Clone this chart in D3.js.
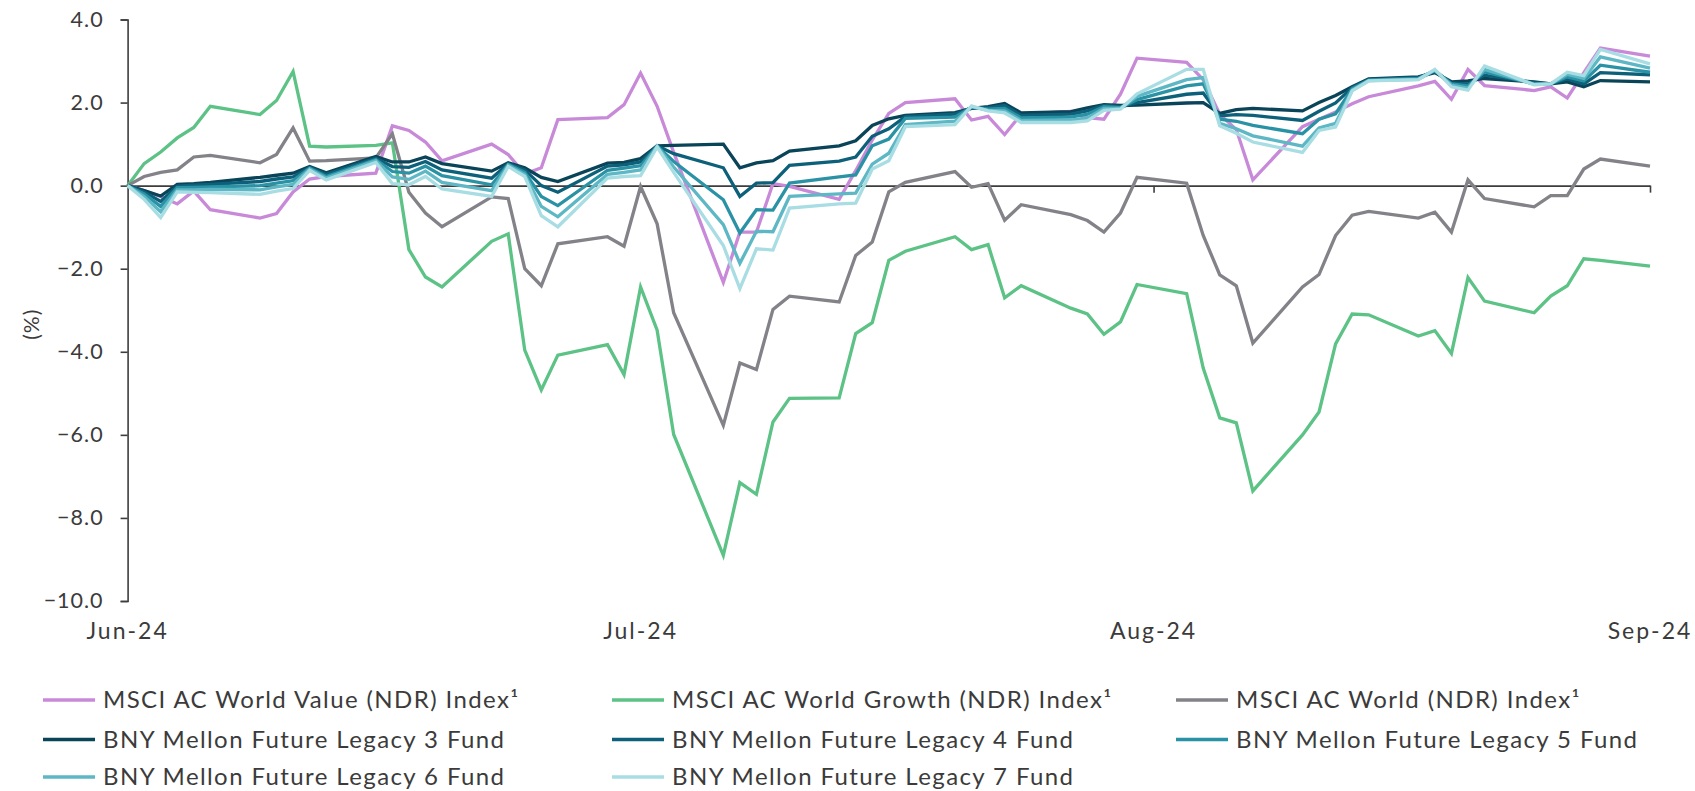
<!DOCTYPE html>
<html>
<head>
<meta charset="utf-8">
<script src="https://cdnjs.cloudflare.com/ajax/libs/d3/7.8.5/d3.min.js"></script>
<style>
    html, body { margin: 0; padding: 0; background: #ffffff; }
    svg { display: block; }
    text { font-family: Lato, "Open Sans", sans-serif; fill: #3b3b3b; }
</style>
</head>
<body>
<div id="contents"></div>
<script>
// trading days (first entry is the base point)
var dates = [
    '2024-06-02',
    '2024-06-03', '2024-06-04', '2024-06-05', '2024-06-06', '2024-06-07',
    '2024-06-10', '2024-06-11', '2024-06-12', '2024-06-13', '2024-06-14',
    '2024-06-17', '2024-06-18', '2024-06-19', '2024-06-20', '2024-06-21',
    '2024-06-24', '2024-06-25', '2024-06-26', '2024-06-27', '2024-06-28',
    '2024-07-01', '2024-07-02', '2024-07-03', '2024-07-04', '2024-07-05',
    '2024-07-08', '2024-07-09', '2024-07-10', '2024-07-11', '2024-07-12',
    '2024-07-15', '2024-07-16', '2024-07-17', '2024-07-18', '2024-07-19',
    '2024-07-22', '2024-07-23', '2024-07-24', '2024-07-25', '2024-07-26',
    '2024-07-29', '2024-07-30', '2024-07-31', '2024-08-01', '2024-08-02',
    '2024-08-05', '2024-08-06', '2024-08-07', '2024-08-08', '2024-08-09',
    '2024-08-12', '2024-08-13', '2024-08-14', '2024-08-15', '2024-08-16',
    '2024-08-19', '2024-08-20', '2024-08-21', '2024-08-22', '2024-08-23',
    '2024-08-26', '2024-08-27', '2024-08-28', '2024-08-29', '2024-08-30',
    '2024-09-02'
];

var msciValue = [
    0,
    -0.12, -0.26, -0.44, -0.13, -0.58,
    -0.78, -0.67, -0.15, 0.16, 0.22,
    0.30, 1.44, 1.33, 1.05, 0.60,
    1.00, 0.75, 0.28, 0.43, 1.59,
    1.64, 1.95, 2.71, 1.91, 0.80,
    -2.33, -1.12, -1.12, 0.05, -0.02,
    -0.33, 0.36, 1.10, 1.74, 2.00,
    2.09, 1.58, 1.67, 1.23, 1.72,
    1.79, 1.64, 1.60, 2.20, 3.07,
    2.97, 2.55, 1.72, 1.35, 0.14,
    1.42, 1.60, 1.77, 1.97, 2.14,
    2.40, 2.51, 2.08, 2.80, 2.41,
    2.29, 2.38, 2.11, 2.72, 3.31,
    3.12
];

var msciGrowth = [
    0,
    0.53, 0.81, 1.15, 1.40, 1.91,
    1.71, 2.05, 2.75, 0.95, 0.93,
    0.97, 1.03, -1.54, -2.20, -2.44,
    -1.34, -1.16, -3.96, -4.92, -4.08,
    -3.83, -4.55, -2.44, -3.48, -5.99,
    -8.90, -7.15, -7.43, -5.69, -5.12,
    -5.11, -3.56, -3.30, -1.80, -1.58,
    -1.23, -1.54, -1.42, -2.70, -2.41,
    -2.95, -3.09, -3.58, -3.28, -2.38,
    -2.60, -4.39, -5.59, -5.71, -7.35,
    -6.00, -5.45, -3.81, -3.09, -3.11,
    -3.62, -3.49, -4.04, -2.21, -2.78,
    -3.06, -2.66, -2.41, -1.76, -1.80,
    -1.94
];

var msciWorld = [
    0,
    0.22, 0.32, 0.38, 0.69, 0.73,
    0.55, 0.75, 1.39, 0.59, 0.60,
    0.67, 1.25, -0.16, -0.66, -0.99,
    -0.27, -0.31, -2.00, -2.41, -1.40,
    -1.23, -1.46, -0.02, -0.92, -3.06,
    -5.77, -4.27, -4.43, -2.98, -2.66,
    -2.80, -1.68, -1.36, -0.15, 0.08,
    0.34, -0.04, 0.05, -0.83, -0.46,
    -0.70, -0.84, -1.12, -0.66, 0.20,
    0.06, -1.20, -2.15, -2.41, -3.79,
    -2.44, -2.14, -1.20, -0.71, -0.62,
    -0.78, -0.64, -1.12, 0.14, -0.31,
    -0.51, -0.24, -0.24, 0.40, 0.64,
    0.47
];

var legacy3 = [
    0,
    -0.12, -0.25, 0.03, 0.05, 0.08,
    0.20, 0.25, 0.30, 0.46, 0.31,
    0.70, 0.57, 0.57, 0.69, 0.53,
    0.35, 0.55, 0.43, 0.20, 0.10,
    0.54, 0.56, 0.65, 0.96, 0.97,
    1.00, 0.43, 0.55, 0.60, 0.83,
    0.96, 1.08, 1.45, 1.61, 1.69,
    1.76, 1.86, 1.90, 1.98, 1.75,
    1.78, 1.87, 1.95, 1.93, 1.94,
    1.99, 2.00, 1.74, 1.83, 1.86,
    1.80, 2.00, 2.17, 2.38, 2.57,
    2.62, 2.72, 2.50, 2.52, 2.58,
    2.50, 2.45, 2.50, 2.38, 2.53,
    2.50
];

var legacy4 = [
    0,
    -0.15, -0.38, -0.01, 0.01, 0.03,
    0.10, 0.16, 0.21, 0.44, 0.27,
    0.66, 0.46, 0.44, 0.58, 0.38,
    0.18, 0.53, 0.38, 0.00, -0.16,
    0.47, 0.50, 0.57, 0.96, 0.77,
    0.43, -0.26, 0.06, 0.07, 0.49,
    0.59, 0.69, 1.19, 1.37, 1.66,
    1.72, 1.87, 1.87, 1.93, 1.69,
    1.72, 1.80, 1.93, 1.90, 2.00,
    2.20, 2.23, 1.68, 1.71, 1.69,
    1.57, 1.79, 1.99, 2.36, 2.55,
    2.60, 2.75, 2.47, 2.45, 2.66,
    2.48, 2.45, 2.57, 2.45, 2.72,
    2.67
];

var legacy5 = [
    0,
    -0.20, -0.50, -0.05, -0.04, -0.03,
    0.00, 0.06, 0.12, 0.42, 0.22,
    0.63, 0.34, 0.30, 0.47, 0.24,
    0.02, 0.51, 0.32, -0.26, -0.48,
    0.37, 0.42, 0.48, 0.95, 0.58,
    -0.34, -1.14, -0.58, -0.59, 0.06,
    0.21, 0.26, 0.96, 1.12, 1.62,
    1.65, 1.89, 1.84, 1.86, 1.63,
    1.65, 1.72, 1.90, 1.88, 2.07,
    2.40, 2.45, 1.60, 1.55, 1.45,
    1.25, 1.60, 1.73, 2.33, 2.54,
    2.58, 2.77, 2.45, 2.40, 2.74,
    2.45, 2.45, 2.62, 2.52, 2.90,
    2.73
];

var legacy6 = [
    0,
    -0.26, -0.63, -0.10, -0.10, -0.09,
    -0.10, -0.03, 0.03, 0.40, 0.18,
    0.60, 0.21, 0.15, 0.35, 0.08,
    -0.12, 0.49, 0.27, -0.50, -0.75,
    0.27, 0.32, 0.38, 0.95, 0.45,
    -0.94, -1.87, -1.10, -1.11, -0.26,
    -0.20, -0.18, 0.52, 0.78, 1.47,
    1.55, 1.90, 1.81, 1.80, 1.57,
    1.58, 1.63, 1.86, 1.86, 2.15,
    2.55, 2.60, 1.50, 1.37, 1.20,
    0.95, 1.39, 1.50, 2.30, 2.53,
    2.56, 2.78, 2.42, 2.35, 2.80,
    2.44, 2.45, 2.68, 2.58, 3.10,
    2.83
];

var legacy7 = [
    0,
    -0.33, -0.77, -0.15, -0.16, -0.17,
    -0.21, -0.13, -0.07, 0.37, 0.14,
    0.56, 0.05, 0.02, 0.22, -0.08,
    -0.26, 0.46, 0.22, -0.72, -0.99,
    0.18, 0.22, 0.24, 0.93, 0.32,
    -1.44, -2.48, -1.52, -1.55, -0.54,
    -0.44, -0.42, 0.40, 0.60, 1.42,
    1.47, 1.92, 1.80, 1.75, 1.52,
    1.52, 1.56, 1.81, 1.84, 2.21,
    2.80, 2.80, 1.44, 1.26, 1.05,
    0.80, 1.33, 1.41, 2.28, 2.52,
    2.55, 2.80, 2.38, 2.30, 2.88,
    2.43, 2.45, 2.73, 2.65, 3.28,
    2.93
];

var seriesNames = [
    'MSCI AC World Value (NDR) Index\u00b9',
    'MSCI AC World Growth (NDR) Index\u00b9',
    'MSCI AC World (NDR) Index\u00b9',
    'BNY Mellon Future Legacy 3 Fund',
    'BNY Mellon Future Legacy 4 Fund',
    'BNY Mellon Future Legacy 5 Fund',
    'BNY Mellon Future Legacy 6 Fund',
    'BNY Mellon Future Legacy 7 Fund'
];
var seriesValues = [msciValue, msciGrowth, msciWorld, legacy3, legacy4, legacy5, legacy6, legacy7];

var tickDates  = ['2024-06-02', '2024-07-03', '2024-08-03', '2024-09-02'];
var tickLabels = ['Jun-24', 'Jul-24', 'Aug-24', 'Sep-24'];
var yTicks     = [4, 2, 0, -2, -4, -6, -8, -10];

// styling
var COLORS = ['#c88ad8', '#5cc285', '#828288', '#0a4458', '#0d6079', '#2a92a5', '#5db7c4', '#a8dde4'];
var WIDTH  = 1695;
var HEIGHT = 791;
var LEFT   = 127.6;
var RIGHT  = 1650;
var TOP    = 19.5;
var BOTTOM = 601;
var AXIS_COLOR = '#3d3d3d';
var FONT = 'Lato, "Open Sans", sans-serif';

var parse = d3.timeParse('%Y-%m-%d');

var svg = d3.select('#contents')
    .append('svg')
    .attr('width', WIDTH)
    .attr('height', HEIGHT);

var x = d3.scaleTime()
    .domain([parse(dates[0]), parse(dates[dates.length - 1])])
    .range([LEFT, RIGHT]);

var y = d3.scaleLinear()
    .domain([-10, 4])
    .range([BOTTOM, TOP]);

// y axis
var yAxis = d3.axisLeft(y)
    .tickValues(yTicks)
    .tickSize(7)
    .tickPadding(17)
    .tickFormat(d3.format('.1f'));

var gy = svg.append('g')
    .attr('transform', 'translate(' + LEFT + ',0)')
    .call(yAxis);
gy.select('.domain').attr('stroke', AXIS_COLOR).attr('stroke-width', 1.6);
gy.selectAll('.tick line').attr('stroke', AXIS_COLOR).attr('stroke-width', 1.6);
gy.selectAll('.tick text')
    .attr('font-size', 21.5)
    .attr('fill', '#3b3b3b')
    .style('letter-spacing', '1px')
    .style('font-family', FONT);

// x axis drawn on the zero line, labels sit below the plot
var xAxis = d3.axisBottom(x)
    .tickValues(tickDates.map(parse))
    .tickSize(7)
    .tickSizeOuter(0)
    .tickFormat('');

var gx = svg.append('g')
    .attr('transform', 'translate(0,' + y(0) + ')')
    .call(xAxis);
gx.select('.domain').attr('stroke', AXIS_COLOR).attr('stroke-width', 1.6);
gx.selectAll('.tick line').attr('stroke', AXIS_COLOR).attr('stroke-width', 1.6);
gx.selectAll('.tick')
    .filter(function(d, i) { return i === 0; })
    .remove();

svg.append('g')
    .selectAll('text')
    .data(tickDates)
    .enter()
    .append('text')
    .attr('x', function(d) { return x(parse(d)); })
    .attr('y', BOTTOM + 38)
    .attr('text-anchor', 'middle')
    .attr('font-size', 23)
    .style('letter-spacing', '2px')
    .text(function(d, i) { return tickLabels[i]; });

// y axis title
svg.append('text')
    .attr('transform', 'translate(39,' + ((TOP + BOTTOM) / 2 + 14) + ') rotate(-90)')
    .attr('text-anchor', 'middle')
    .attr('font-size', 21)
    .style('letter-spacing', '1px')
    .text('(%)');

// series lines
var line = d3.line()
    .x(function(d) { return x(d.date); })
    .y(function(d) { return y(d.value); });

var series = seriesValues.map(function(values, s) {
    return {
        name: seriesNames[s],
        color: COLORS[s],
        points: values.map(function(v, i) { return {date: parse(dates[i]), value: v}; })
    };
});

svg.append('g')
    .selectAll('path')
    .data(series)
    .enter()
    .append('path')
    .attr('fill', 'none')
    .attr('stroke', function(d) { return d.color; })
    .attr('stroke-width', 3.3)
    .attr('stroke-linejoin', 'miter')
    .attr('d', function(d) { return line(d.points); });

// legend: three columns
var LEG_COLS = [43, 612, 1176];
var LEG_ROWS = [700, 739.5, 777];
var legend = svg.append('g')
    .selectAll('g')
    .data(series)
    .enter()
    .append('g')
    .attr('transform', function(d, i) {
        return 'translate(' + LEG_COLS[i % 3] + ',' + LEG_ROWS[Math.floor(i / 3)] + ')';
    });

legend.append('line')
    .attr('x1', 0)
    .attr('x2', 52)
    .attr('stroke', function(d) { return d.color; })
    .attr('stroke-width', 3.4);

legend.append('text')
    .attr('x', 60)
    .attr('y', 8)
    .attr('font-size', 24)
    .style('letter-spacing', '1.4px')
    .text(function(d) { return d.name; });
</script>
</body>
</html>
